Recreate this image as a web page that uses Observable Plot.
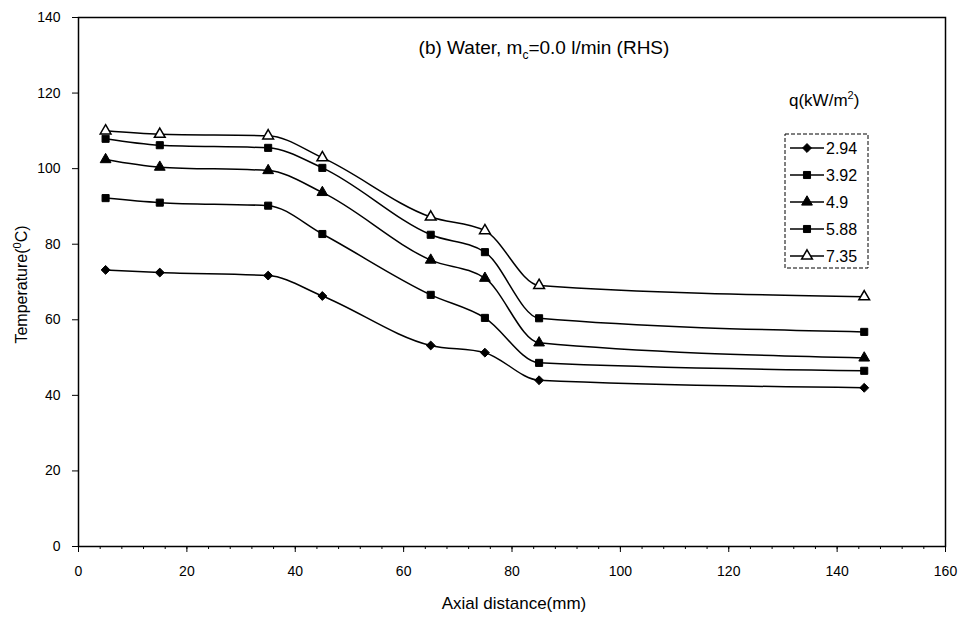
<!DOCTYPE html>
<html>
<head>
<meta charset="utf-8">
<script src="https://cdn.jsdelivr.net/npm/d3@7"></script>
<script src="https://cdn.jsdelivr.net/npm/@observablehq/plot@0.6"></script>
<style>
  html, body { margin: 0; padding: 0; background: white; }
  #chart { width: 968px; height: 619px; }
</style>
</head>
<body>
<div id="chart"></div>
<script>
// ---- data ----
const axialDistance = [5, 15, 35, 45, 65, 75, 85, 145];
const heatFluxLabels = ["2.94", "3.92", "4.9", "5.88", "7.35"];
const temp294 = [73.2, 72.5, 71.7, 66.3, 53.2, 51.3, 44.0, 42.0];
const temp392 = [92.2, 91.0, 90.2, 82.7, 66.6, 60.5, 48.6, 46.5];
const temp49  = [102.4, 100.4, 99.5, 93.7, 75.8, 71.0, 53.9, 49.9];
const temp588 = [107.9, 106.2, 105.5, 100.2, 82.5, 77.9, 60.4, 56.8];
const temp735 = [110.0, 109.1, 108.7, 102.9, 87.2, 83.6, 69.1, 66.1];
const xTicks = [0, 20, 40, 60, 80, 100, 120, 140, 160];
const yTicks = [0, 20, 40, 60, 80, 100, 120, 140];

const seriesValues = [temp294, temp392, temp49, temp588, temp735];
const symbols = ["diamond2", "square", "triangle", "square", "triangle"];
const fills = ["black", "black", "black", "black", "white"];

const rows = [];
heatFluxLabels.forEach((q, i) => {
  axialDistance.forEach((x, j) => rows.push({q, x, t: seriesValues[i][j]}));
});

const font = "'Liberation Sans', Arial, Helvetica, sans-serif";

const marks = [
  Plot.frame({stroke: "black", strokeWidth: 1.5}),
  Plot.axisX({ticks: d3.range(0, 161, 4), tickSize: 3, tickFormat: () => "", label: null}),
  Plot.axisX({ticks: xTicks, tickSize: 6, tickPadding: 14, label: null}),
  Plot.axisY({ticks: yTicks, tickSize: 6, tickPadding: 12, label: null}),
  Plot.line(rows, {x: "x", y: "t", z: "q", curve: "monotone-x", stroke: "black", strokeWidth: 1.5})
];
heatFluxLabels.forEach((q, i) => {
  marks.push(Plot.dot(rows.filter(d => d.q === q), {
    x: "x", y: "t", symbol: () => symbols[i], r: 4,
    fill: fills[i], stroke: "black", strokeWidth: fills[i] === "white" ? 1.5 : 1
  }));
});

const chart = Plot.plot({
  width: 968,
  height: 619,
  marginLeft: 78,
  marginRight: 23,
  marginTop: 17,
  marginBottom: 73,
  style: {fontFamily: font, fontSize: "14px", background: "white", color: "black"},
  x: {domain: [0, 160], label: null},
  y: {domain: [0, 140], label: null},
  symbol: {type: "identity"},
  marks
});
document.getElementById("chart").appendChild(chart);

// ---- annotations: title, axis titles, legend ----
const svg = d3.select(chart);
svg.selectAll('g[aria-label$="tick label"]').style("font-size", "14px").attr("font-size", 14);
svg.selectAll('g[aria-label$="tick label"] text').style("font-size", "14px");
const ys = chart.scale("y");

const title = svg.append("text")
  .attr("x", 544).attr("y", 54).attr("text-anchor", "middle")
  .style("font-family", font).style("font-size", "19px").attr("fill", "black");
title.append("tspan").text("(b) Water, m");
title.append("tspan").attr("dy", 5).style("font-size", "12px").text("c");
title.append("tspan").attr("dy", -5).text("=0.0 l/min (RHS)");

svg.append("text")
  .attr("x", 514).attr("y", 609).attr("text-anchor", "middle")
  .style("font-family", font).style("font-size", "17px").attr("fill", "black")
  .text("Axial distance(mm)");

const ylab = svg.append("text")
  .attr("transform", `translate(27,${(ys.range[0] + ys.range[1]) / 2 + 3}) rotate(-90)`)
  .attr("text-anchor", "middle")
  .style("font-family", font).style("font-size", "16px").attr("fill", "black");
ylab.append("tspan").text("Temperature(");
ylab.append("tspan").attr("dy", -6).style("font-size", "11px").text("0");
ylab.append("tspan").attr("dy", 6).text("C)");

const lg = svg.append("g").style("font-family", font).attr("text-anchor", "start");
const q = lg.append("text").attr("x", 789).attr("y", 106)
  .style("font-size", "17px").attr("fill", "black");
q.append("tspan").text("q(kW/m");
q.append("tspan").attr("dy", -7).style("font-size", "11px").text("2");
q.append("tspan").attr("dy", 7).text(")");

lg.append("rect").attr("x", 785).attr("y", 134).attr("width", 83).attr("height", 134)
  .attr("fill", "white").attr("stroke", "black").attr("stroke-width", 1)
  .attr("stroke-dasharray", "4,2");
const d3sym = {diamond2: d3.symbolDiamond2, square: d3.symbolSquare, triangle: d3.symbolTriangle};
heatFluxLabels.forEach((lab, i) => {
  const y = 148 + i * 27;
  lg.append("line").attr("x1", 790).attr("x2", 824).attr("y1", y).attr("y2", y)
    .attr("stroke", "black").attr("stroke-width", 1.5);
  lg.append("path").attr("transform", `translate(807,${y})`)
    .attr("d", d3.symbol(d3sym[symbols[i]], Math.PI * 16)())
    .attr("fill", fills[i]).attr("stroke", "black")
    .attr("stroke-width", fills[i] === "white" ? 1.5 : 1);
  lg.append("text").attr("x", 826).attr("y", y + 6)
    .style("font-size", "16px").attr("fill", "black").text(lab);
});
</script>
</body>
</html>
